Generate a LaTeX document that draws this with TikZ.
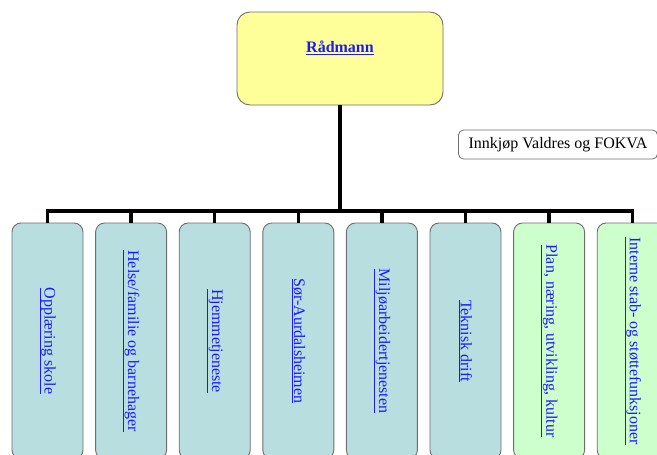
\documentclass[tikz,border=0pt]{standalone}
\usepackage{fontspec}
\setmainfont{Liberation Serif}
\usetikzlibrary{positioning}
\definecolor{bossyellow}{HTML}{FFFF99}
\definecolor{unitblue}{HTML}{B8DEE0}
\definecolor{unitgreen}{HTML}{CCFFCC}
\definecolor{linkblue}{HTML}{1A1AFF}
\definecolor{edgegray}{HTML}{6E6E6E}
\tikzset{
  boss/.style={draw=edgegray, line width=0.9pt, fill=bossyellow, rounded corners=13pt,
    minimum width=206pt, minimum height=93pt, inner sep=0pt},
  unit/.style={draw=edgegray, line width=0.9pt, rounded corners=9pt,
    minimum width=71pt, minimum height=236pt, inner sep=0pt},
  sidebox/.style={draw=edgegray, line width=0.8pt, fill=white, rounded corners=5pt,
    minimum width=199pt, minimum height=29pt, inner sep=0pt,
    font=\fontsize{16}{19}\selectfont},
  linktext/.style={text=linkblue, inner sep=0pt, font=\fontsize{16}{19}\selectfont},
  conn/.style={line width=3.5pt, black}
}
\begin{document}
\begin{tikzpicture}[x=1pt,y=-1pt]
\useasboundingbox (0,0) rectangle (657,455);
\clip (0,0) rectangle (657,455);

\node[boss] (radmann) at (340,58.5) {};
\node[linktext] (radmanntext) at ([yshift=11pt]radmann.center) {\bfseries\underline{Rådmann}};

\node[sidebox] (innkjop) at (558,144.5) {Innkjøp Valdres og FOKVA};

\coordinate (bus) at (340,211);

\foreach \i/\txt/\col in {1/Opplæring skole/unitblue,
                         2/Helse\slash familie og barnehager/unitblue,
                         3/Hjemmetjeneste/unitblue,
                         4/Sør-Aurdalsheimen/unitblue,
                         5/Miljøarbeidertjenesten/unitblue,
                         6/Teknisk drift/unitblue,
                         7/{Plan, næring, utvikling, kultur}/unitgreen,
                         8/Interne stab- og støttefunksjoner/unitgreen}
{
  \node[unit, fill=\col] (u\i) at ({47.5+83.6*(\i-1)},341) {};
  \node[linktext, rotate=-90] (t\i) at (u\i.center) {\underline{\txt}};
}

% tree lines
\draw[conn] (radmann.south) -- (bus);
\draw[conn] (u1.north) -- (u1.north |- bus) -- (u8.north |- bus) -- (u8.north);
\foreach \i in {2,...,7}
{
  \draw[conn] (u\i.north) -- (u\i.north |- bus);
}
\end{tikzpicture}
\end{document}
